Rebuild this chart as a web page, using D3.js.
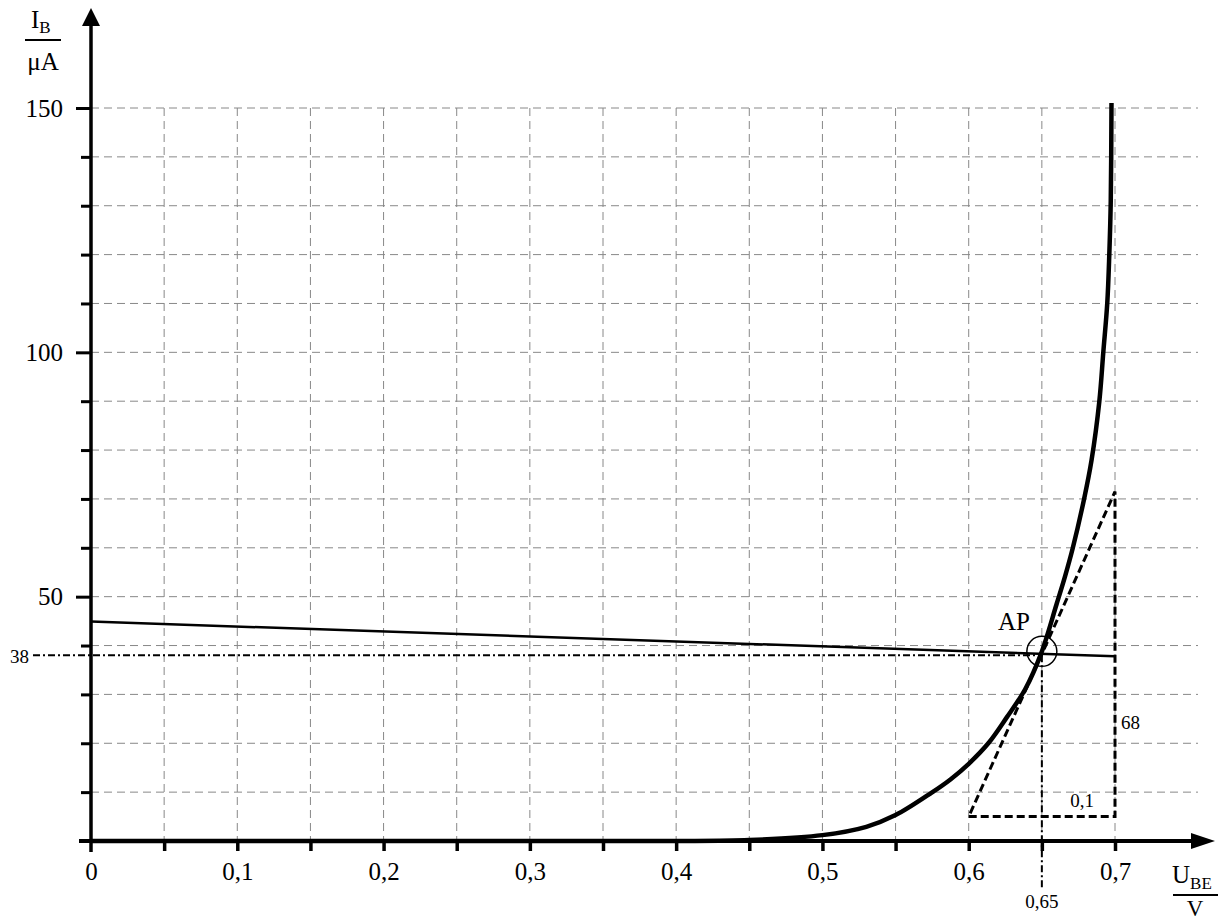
<!DOCTYPE html>
<html><head><meta charset="utf-8">
<script src="https://cdn.jsdelivr.net/npm/d3@7"></script>
<style>
html,body{margin:0;padding:0;background:#fff;}
svg text{font-family:"Liberation Serif","Times New Roman",Tinos,"DejaVu Serif","Noto Serif",serif !important;fill:#000;}
</style></head>
<body>
<svg id="c" width="1226" height="923" font-family="Liberation Serif, Times New Roman, DejaVu Serif, serif"></svg>
<script>
// ---- data ----
const ube = [0, 0.1, 0.2, 0.3, 0.4, 0.45, 0.5, 0.53, 0.55, 0.5747, 0.5875, 0.6, 0.6134, 0.626, 0.6385, 0.6494, 0.6601, 0.6658, 0.6711, 0.6788, 0.684, 0.6893, 0.692, 0.6947, 0.6961, 0.6971, 0.6976];
const ib  = [0, 0, 0, 0, 0, 0.2, 1.2, 2.9, 5.3, 9.9, 12.6, 15.8, 20, 25.3, 31, 38.3, 48.5, 54.1, 59.9, 69.9, 78, 90, 100, 110, 120, 131, 151];
const loadU = [0, 0.7];
const loadI = [44.9, 37.8];
const apU = 0.65, apI = 38;
const tanU = [0.6, 0.7, 0.7, 0.6];
const tanI = [5, 5, 71.5, 5];
const xTickVals = [0.05,0.1,0.15,0.2,0.25,0.3,0.35,0.4,0.45,0.5,0.55,0.6,0.65,0.7];
const xLabelVals = [0,0.1,0.2,0.3,0.4,0.5,0.6,0.7];
const yTickVals = [10,20,30,40,50,60,70,80,90,100,110,120,130,140,150];
const yLabelVals = [50,100,150];

// ---- scales ----
const x = d3.scaleLinear().domain([0,0.7]).range([91,1115]);
const y = d3.scaleLinear().domain([0,150]).range([841,108]);
const svg = d3.select("#c");
const fmt = v => d3.format(".2~f")(v).replace(".", ",");
const SERIF = "Liberation Serif, Times New Roman, DejaVu Serif, serif";

// gridlines
const grid = svg.append("g").attr("stroke","#888").attr("stroke-width",1).attr("stroke-dasharray","8,5").attr("fill","none");
grid.selectAll("line.v").data(xTickVals).join("line")
  .attr("x1",d=>x(d)).attr("x2",d=>x(d)).attr("y1",y(150)).attr("y2",y(0));
grid.selectAll("line.h").data(yTickVals).join("line")
  .attr("x1",x(0)).attr("x2",1198).attr("y1",d=>y(d)).attr("y2",d=>y(d));

// x axis (ticks + labels)
const gx = svg.append("g").attr("transform",`translate(0,${y(0)})`)
  .call(d3.axisBottom(x).tickValues(xTickVals).tickSize(10).tickFormat(""));
gx.select(".domain").remove();
gx.selectAll(".tick line").attr("stroke","#000").attr("stroke-width",3.5);
const gxl = svg.append("g").attr("transform",`translate(0,${y(0)})`)
  .call(d3.axisBottom(x).tickValues(xLabelVals).tickSize(0).tickPadding(21).tickFormat(fmt));
gxl.attr("font-family",SERIF).attr("font-size",25);
gxl.select(".domain").remove();
gxl.selectAll("text").attr("font-size",25).attr("font-family",SERIF).attr("fill","#000");

// y axis
const gy = svg.append("g").attr("transform",`translate(${x(0)},0)`)
  .call(d3.axisLeft(y).tickValues(yTickVals).tickSize(10).tickFormat(""));
gy.select(".domain").remove();
gy.selectAll(".tick line").attr("stroke","#000").attr("stroke-width",3)
  .attr("x2", d => yLabelVals.includes(d) ? -15 : -10);
const gyl = svg.append("g").attr("transform",`translate(${x(0)},0)`)
  .call(d3.axisLeft(y).tickValues(yLabelVals).tickSize(0).tickPadding(28).tickFormat(d3.format("d")));
gyl.attr("font-family",SERIF).attr("font-size",25);
gyl.select(".domain").remove();
gyl.selectAll("text").attr("font-size",25).attr("font-family",SERIF).attr("fill","#000");

// axis lines with arrows
svg.append("line").attr("x1",79).attr("x2",1195).attr("y1",y(0)).attr("y2",y(0)).attr("stroke","#000").attr("stroke-width",4);
svg.append("path").attr("d",`M1215,${y(0)} L1191,${y(0)-8} L1191,${y(0)+8} Z`).attr("fill","#000");
svg.append("line").attr("x1",x(0)).attr("x2",x(0)).attr("y1",852).attr("y2",22).attr("stroke","#000").attr("stroke-width",3.5);
svg.append("path").attr("d",`M${x(0)},8 L${x(0)-9},26 L${x(0)+9},26 Z`).attr("fill","#000");

// dash-dot reference lines for AP
svg.append("line").attr("x1",33).attr("x2",x(apU)).attr("y1",y(apI)).attr("y2",y(apI))
  .attr("stroke","#000").attr("stroke-width",2).attr("stroke-dasharray","7,3,2,3");
svg.append("line").attr("x1",x(apU)).attr("x2",x(apU)).attr("y1",y(apI)).attr("y2",889)
  .attr("stroke","#000").attr("stroke-width",2).attr("stroke-dasharray","7,3,2,3");

// tangent triangle
svg.append("path").datum(tanU.map((u,i)=>[u,tanI[i]]))
  .attr("d", d3.line().x(d=>x(d[0])).y(d=>y(d[1])))
  .attr("fill","none").attr("stroke","#000").attr("stroke-width",3).attr("stroke-dasharray","8,4");

// load line
svg.append("path").datum(loadU.map((u,i)=>[u,loadI[i]]))
  .attr("d", d3.line().x(d=>x(d[0])).y(d=>y(d[1])))
  .attr("fill","none").attr("stroke","#000").attr("stroke-width",2.5);

// characteristic curve
svg.append("path").datum(ube.map((u,i)=>[u,ib[i]]))
  .attr("d", d3.line().curve(d3.curveCatmullRom.alpha(0.5)).x(d=>x(d[0])).y(d=>y(d[1])))
  .attr("fill","none").attr("stroke","#000").attr("stroke-width",4.5).attr("stroke-linejoin","round");

// AP circle
svg.append("circle").attr("cx",x(apU)).attr("cy",y(apI)-4).attr("r",15)
  .attr("fill","none").attr("stroke","#000").attr("stroke-width",1.5);

// annotations
const T = (sel) => sel.attr("font-family",SERIF);
T(svg.append("text").attr("x",998).attr("y",630).attr("font-size",25).text("AP"));
T(svg.append("text").attr("x",10).attr("y",663).attr("font-size",19).text("38"));
T(svg.append("text").attr("x",x(apU)).attr("y",908).attr("text-anchor","middle").attr("font-size",19).text("0,65"));
T(svg.append("text").attr("x",1082).attr("y",807).attr("text-anchor","middle").attr("font-size",19).text("0,1"));
T(svg.append("text").attr("x",1121).attr("y",729).attr("font-size",19).text("68"));

// axis titles (fractions)
const t1 = T(svg.append("text").attr("x",31).attr("y",28).attr("font-size",25));
t1.append("tspan").text("I");
t1.append("tspan").attr("font-size",17).attr("dy",5).text("B");
svg.append("line").attr("x1",25).attr("x2",61).attr("y1",40).attr("y2",40).attr("stroke","#000").attr("stroke-width",2);
T(svg.append("text").attr("x",43).attr("y",70).attr("text-anchor","middle").attr("font-size",25).text("μA"));

const t2 = T(svg.append("text").attr("x",1172).attr("y",883).attr("font-size",25));
t2.append("tspan").text("U");
t2.append("tspan").attr("font-size",17).attr("dy",6).text("BE");
svg.append("line").attr("x1",1173).attr("x2",1218).attr("y1",895).attr("y2",895).attr("stroke","#000").attr("stroke-width",2);
T(svg.append("text").attr("x",1195).attr("y",916).attr("text-anchor","middle").attr("font-size",23).text("V"));
</script>
</body></html>
